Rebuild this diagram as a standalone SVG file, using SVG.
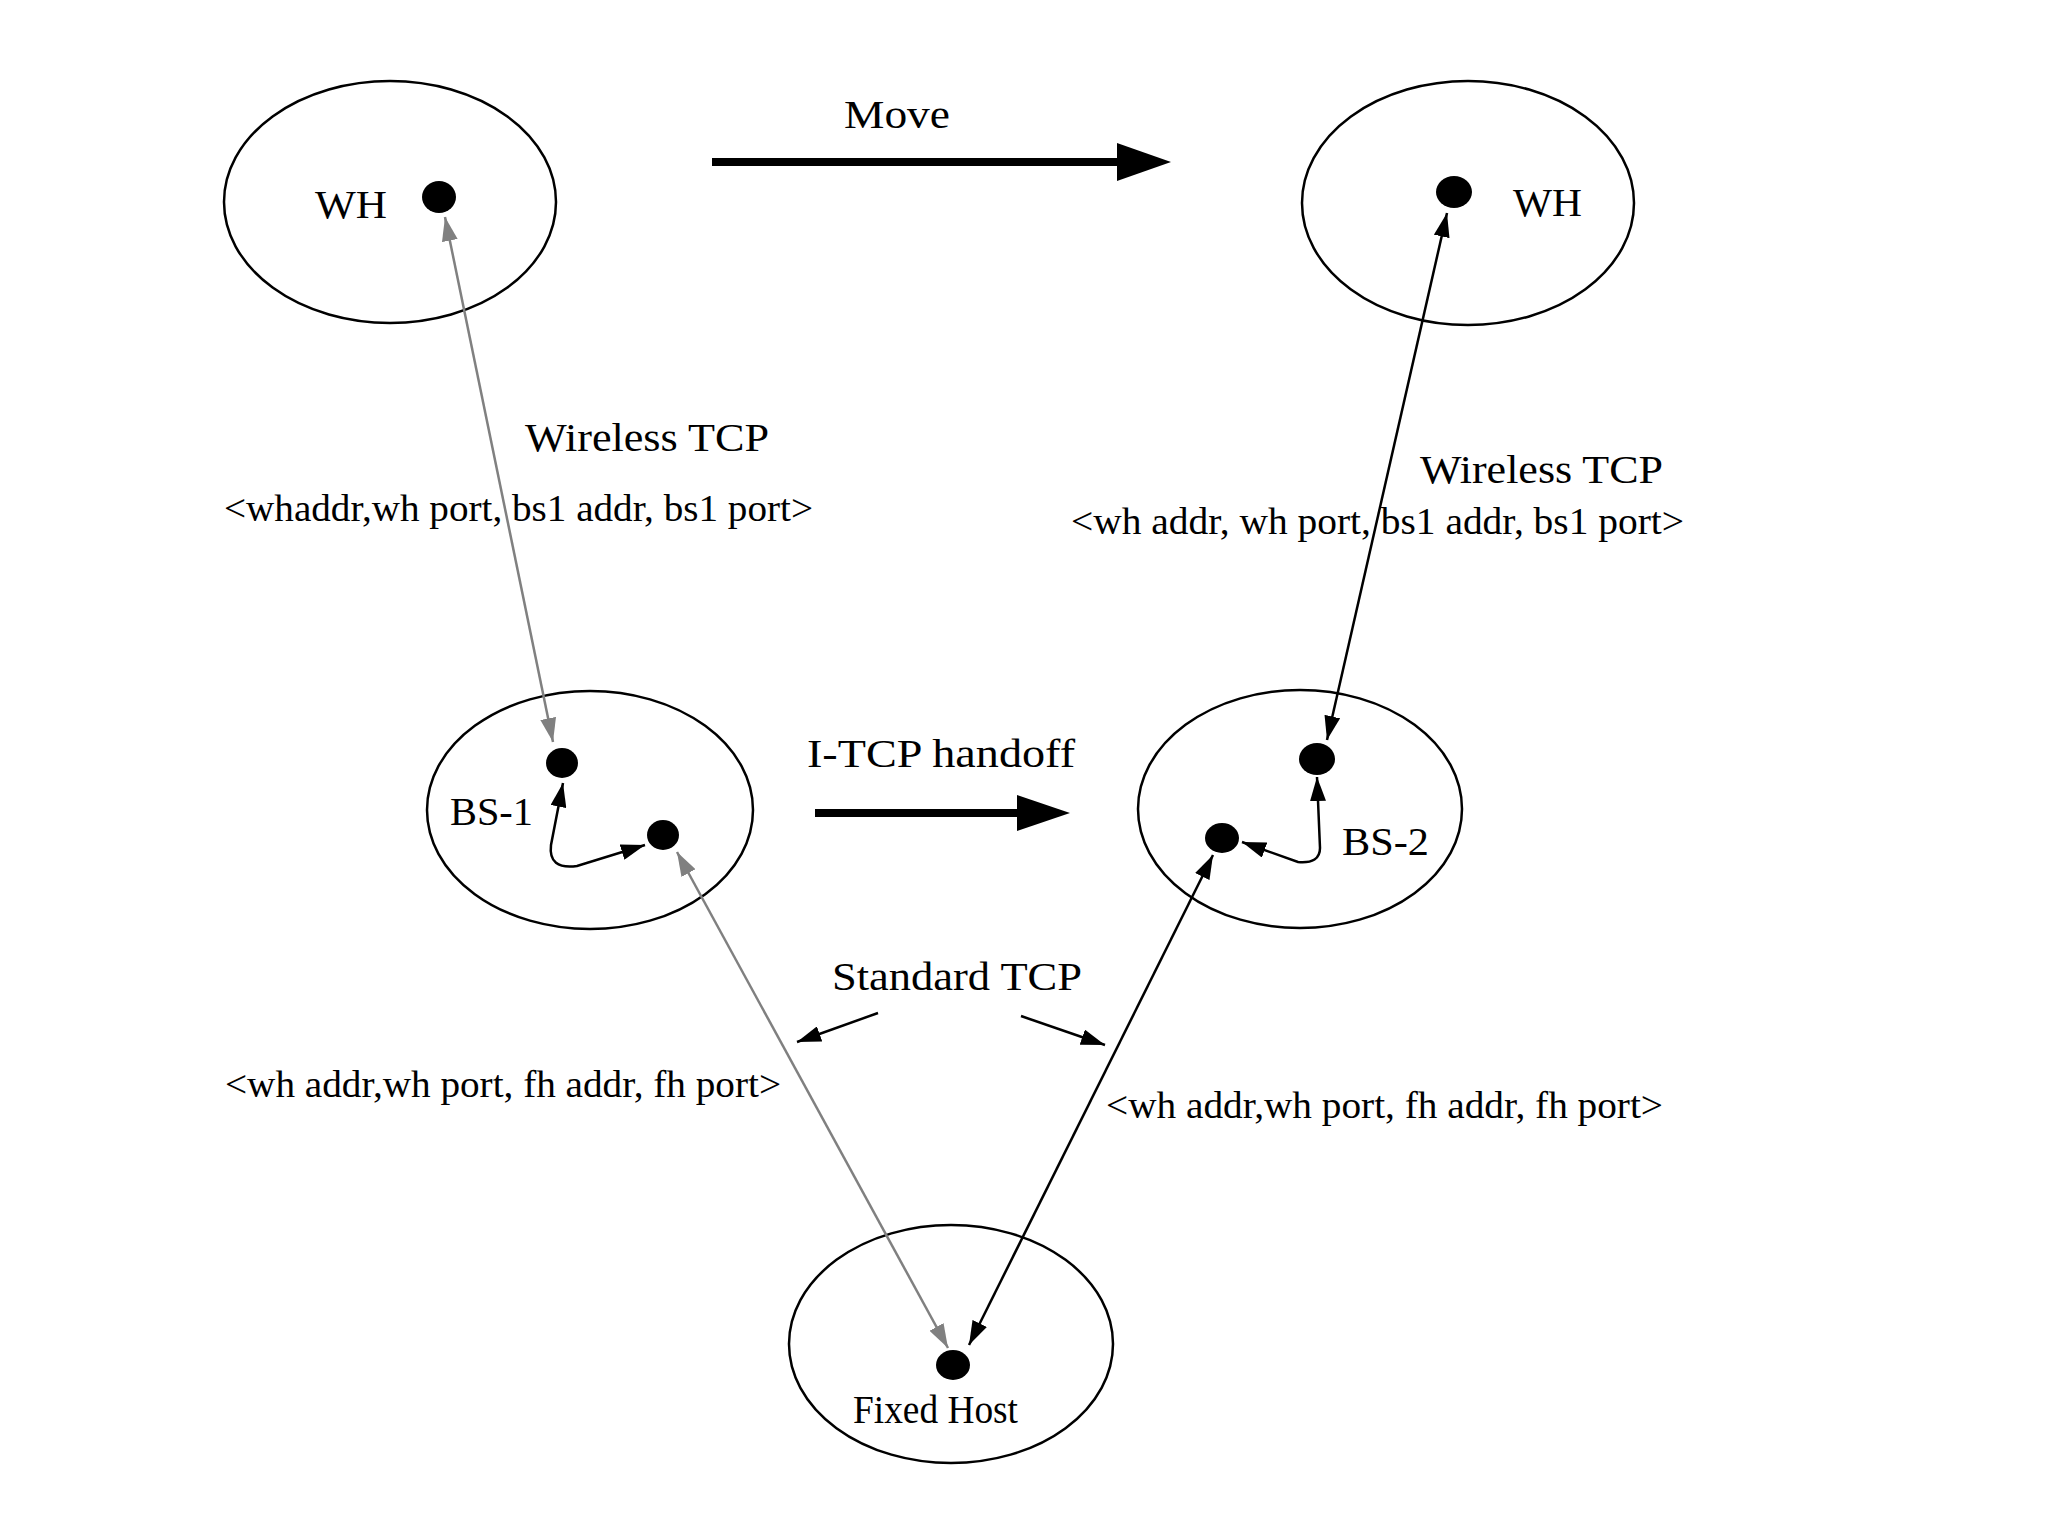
<svg xmlns="http://www.w3.org/2000/svg" width="2048" height="1536" viewBox="0 0 2048 1536">
<style>
.cell{fill:none;stroke:#000;stroke-width:2.5}
.dot{fill:#000}
.t{font-family:"Liberation Serif","Times New Roman",serif;font-size:40px;fill:#000}
.s{font-family:"Liberation Serif","Times New Roman",serif;font-size:37px;fill:#000}
.blk{fill:none;stroke:#000;stroke-width:2.5;marker-start:url(#ab);marker-end:url(#ab)}
.gry{fill:none;stroke:#808080;stroke-width:2.5;marker-start:url(#ag);marker-end:url(#ag)}
.one{fill:none;stroke:#000;stroke-width:2.5;marker-end:url(#ab)}
.big{stroke:#000;stroke-width:8}
</style>
<defs>
<marker id="ab" viewBox="0 0 24 16" refX="24" refY="8" markerWidth="24" markerHeight="16" markerUnits="userSpaceOnUse" orient="auto-start-reverse"><path d="M0,0 L24,8 L0,16 z" fill="#000"/></marker>
<marker id="ag" viewBox="0 0 24 16" refX="24" refY="8" markerWidth="24" markerHeight="16" markerUnits="userSpaceOnUse" orient="auto-start-reverse"><path d="M0,0 L24,8 L0,16 z" fill="#808080"/></marker>
</defs>
<rect width="2048" height="1536" fill="#fff"/>

<g id="wh-old">
<ellipse class="cell" cx="390" cy="202" rx="166" ry="121"/>
<ellipse class="dot" cx="439" cy="197" rx="17" ry="16"/>
<text class="t" x="315" y="218" textLength="72" lengthAdjust="spacingAndGlyphs">WH</text>
</g>
<g id="wh-new">
<ellipse class="cell" cx="1468" cy="203" rx="166" ry="122"/>
<ellipse class="dot" cx="1454" cy="192" rx="18" ry="16"/>
<text class="t" x="1513" y="216" textLength="69" lengthAdjust="spacingAndGlyphs">WH</text>
</g>
<g id="bs1">
<ellipse class="cell" cx="590" cy="810" rx="163" ry="119"/>
<ellipse class="dot" cx="562" cy="763" rx="16" ry="15"/>
<ellipse class="dot" cx="663" cy="835" rx="16" ry="15"/>
<text class="t" x="450" y="825" textLength="83" lengthAdjust="spacingAndGlyphs">BS-1</text>
</g>
<g id="bs2">
<ellipse class="cell" cx="1300" cy="809" rx="162" ry="119"/>
<ellipse class="dot" cx="1317" cy="759" rx="18" ry="16"/>
<ellipse class="dot" cx="1222" cy="838" rx="17" ry="15"/>
<text class="t" x="1342" y="855" textLength="87" lengthAdjust="spacingAndGlyphs">BS-2</text>
</g>
<g id="fixed-host">
<ellipse class="cell" cx="951" cy="1344" rx="162" ry="119"/>
<ellipse class="dot" cx="953" cy="1365" rx="17" ry="15"/>
<text class="t" x="853" y="1423" textLength="165" lengthAdjust="spacingAndGlyphs">Fixed Host</text>
</g>

<g id="connectors">
<line class="big" x1="712" y1="162" x2="1120" y2="162"/>
<polygon points="1117,143 1171,162 1117,181" fill="#000"/>
<line class="big" x1="815" y1="813" x2="1020" y2="813"/>
<polygon points="1017,795 1070,813 1017,831" fill="#000"/>
<line class="gry" x1="445" y1="217" x2="553" y2="742"/>
<line class="gry" x1="677" y1="852" x2="948" y2="1348"/>
<line class="blk" x1="1447" y1="213" x2="1327" y2="740"/>
<line class="blk" x1="1213" y1="855" x2="969" y2="1345"/>
<path class="blk" d="M563,783 L551,845 Q548,870 577,866 L645,845"/>
<path class="blk" d="M1242,842 L1298,862 Q1320,864 1320,848 L1317,777"/>
<line class="one" x1="878" y1="1013" x2="797" y2="1042"/>
<line class="one" x1="1021" y1="1016" x2="1105" y2="1045"/>
</g>

<g id="labels">
<text class="t" x="844" y="128" textLength="106" lengthAdjust="spacingAndGlyphs">Move</text>
<text class="t" x="525" y="451" textLength="244" lengthAdjust="spacingAndGlyphs">Wireless TCP</text>
<text class="s" x="224" y="521" textLength="589" lengthAdjust="spacingAndGlyphs">&lt;whaddr,wh port, bs1 addr, bs1 port&gt;</text>
<text class="t" x="1420" y="483" textLength="243" lengthAdjust="spacingAndGlyphs">Wireless TCP</text>
<text class="s" x="1071" y="534" textLength="613" lengthAdjust="spacingAndGlyphs">&lt;wh addr, wh port, bs1 addr, bs1 port&gt;</text>
<text class="t" x="807" y="767" textLength="268" lengthAdjust="spacingAndGlyphs">I-TCP handoff</text>
<text class="t" x="832" y="990" textLength="250" lengthAdjust="spacingAndGlyphs">Standard TCP</text>
<text class="s" x="225" y="1097" textLength="556" lengthAdjust="spacingAndGlyphs">&lt;wh addr,wh port, fh addr, fh port&gt;</text>
<text class="s" x="1106" y="1118" textLength="557" lengthAdjust="spacingAndGlyphs">&lt;wh addr,wh port, fh addr, fh port&gt;</text>
</g>
</svg>
